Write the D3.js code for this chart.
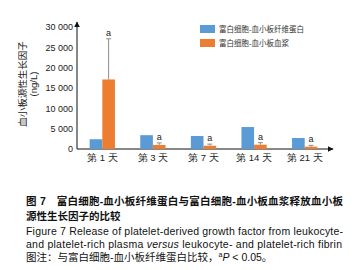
<!DOCTYPE html>
<html>
<head>
<meta charset="utf-8">
<script src="https://cdn.jsdelivr.net/npm/d3@7"></script>
<style>
  body { margin: 0; background: #fff; }
  svg { display: block; font-family: "Liberation Sans", Arial, "Noto Sans CJK SC", sans-serif; }
</style>
</head>
<body>
<svg id="chart" width="360" height="270"></svg>
<script>
// data
const days = ["第 1 天", "第 3 天", "第 7 天", "第 14 天", "第 21 天"];
const seriesNames = ["富白细胞-血小板纤维蛋白", "富白细胞-血小板血浆"];
const fibrinValues = [2400, 3400, 3200, 5400, 2700];
const plasmaValues = [17100, 1000, 800, 1050, 570];
const plasmaErrors = [10000, 500, 400, 500, 330];
const sigMarks = ["a", "a", "a", "a", "a"];
const yTicks = [0, 5000, 10000, 15000, 20000, 25000, 30000];
const colors = ["#5b9bd5", "#ed7d31"];

const svg = d3.select("#chart");
const left = 77;

const x = d3.scaleBand().domain(days).range([left, 330]).paddingInner(0.5).paddingOuter(0.25);
const sub = d3.scaleBand().domain([0, 1]).range([0, x.bandwidth()]);
const y = d3.scaleLinear().domain([0, 30000]).range([149, 27]);

const fmt = v => v === 0 ? "0" : d3.format(",")(v).replace(",", " ");

// y axis
const gy = svg.append("g").attr("class", "yaxis")
  .attr("transform", `translate(${left},0)`)
  .call(d3.axisLeft(y).tickValues(yTicks).tickSize(0).tickPadding(4).tickFormat(fmt));
gy.select(".domain").remove();
gy.selectAll("text").attr("font-size", 9).attr("fill", "#222");

// x axis
const gx = svg.append("g").attr("class", "xaxis")
  .attr("transform", `translate(0,${y(0)})`)
  .call(d3.axisBottom(x).tickSize(0).tickPadding(5));
gx.select(".domain").remove();
gx.selectAll("text").attr("font-size", 9.5).attr("fill", "#222");

// axis lines with arrows
svg.append("defs").append("marker")
  .attr("id", "arrow").attr("viewBox", "0 0 10 10").attr("refX", 9).attr("refY", 5)
  .attr("markerWidth", 6).attr("markerHeight", 6).attr("orient", "auto-start-reverse")
  .append("path").attr("d", "M0,0 L10,5 L0,10 z").attr("fill", "#111");
svg.append("line").attr("x1", left).attr("x2", left)
  .attr("y1", y(0)).attr("y2", 22).attr("stroke", "#111")
  .attr("marker-end", "url(#arrow)");
svg.append("line").attr("x1", left).attr("x2", 333)
  .attr("y1", y(0)).attr("y2", y(0)).attr("stroke", "#111")
  .attr("marker-end", "url(#arrow)");

// y label
const yl = svg.append("text").attr("transform", "translate(26,84) rotate(-90)")
  .attr("text-anchor", "middle").attr("font-size", 9.5).attr("fill", "#222");
yl.append("tspan").attr("x", 0).attr("y", 0).text("血小板源性生长因子");
yl.append("tspan").attr("x", 0).attr("y", 11).text("(ng/L)");

// bars
const bars = svg.append("g");
bars.selectAll("rect.f").data(fibrinValues).join("rect").attr("class", "f")
  .attr("x", (d, i) => x(days[i]) + sub(0)).attr("width", sub.bandwidth())
  .attr("y", d => y(d)).attr("height", d => y(0) - y(d)).attr("fill", colors[0]);
bars.selectAll("rect.p").data(plasmaValues).join("rect").attr("class", "p")
  .attr("x", (d, i) => x(days[i]) + sub(1)).attr("width", sub.bandwidth())
  .attr("y", d => y(d)).attr("height", d => y(0) - y(d)).attr("fill", colors[1]);

// error bars + significance marks
const eg = svg.append("g").attr("stroke", "#8c8c8c");
const marks = svg.append("g");
plasmaValues.forEach((v, i) => {
  const cx = x(days[i]) + sub(1) + sub.bandwidth() / 2;
  const yTop = y(v + plasmaErrors[i]);
  eg.append("line").attr("x1", cx).attr("x2", cx).attr("y1", y(v)).attr("y2", yTop);
  eg.append("line").attr("x1", cx - 2.5).attr("x2", cx + 2.5).attr("y1", yTop).attr("y2", yTop);
  marks.append("text").attr("x", cx).attr("y", yTop - 3)
    .attr("text-anchor", "middle").attr("font-size", 9).attr("fill", "#222").text(sigMarks[i]);
});

// legend
const lg = svg.append("g");
seriesNames.forEach((n, i) => {
  lg.append("rect").attr("x", 200).attr("y", 25 + i * 14).attr("width", 15).attr("height", 8).attr("fill", colors[i]);
  lg.append("text").attr("x", 219).attr("y", 32 + i * 14).attr("font-size", 7.5).attr("fill", "#333").text(n);
});

// caption
const cap = svg.append("g").attr("fill", "#111");
cap.append("text").attr("x", 26).attr("y", 205).attr("font-size", 10.5).attr("font-weight", "bold")
  .attr("textLength", 317).attr("lengthAdjust", "spacing")
  .text("图 7　富白细胞-血小板纤维蛋白与富白细胞-血小板血浆释放血小板");
cap.append("text").attr("x", 26).attr("y", 220).attr("font-size", 10.5).attr("font-weight", "bold")
  .text("源性生长因子的比较");
cap.append("text").attr("x", 26).attr("y", 235).attr("font-size", 10.5)
  .attr("textLength", 317).attr("lengthAdjust", "spacing")
  .text("Figure 7   Release of platelet-derived growth factor from leukocyte-");
const l4 = cap.append("text").attr("x", 26).attr("y", 248).attr("font-size", 10.5)
  .attr("textLength", 316).attr("lengthAdjust", "spacing");
l4.append("tspan").text("and platelet-rich plasma ");
l4.append("tspan").attr("font-style", "italic").text("versus");
l4.append("tspan").text(" leukocyte- and platelet-rich fibrin");
const l5 = cap.append("text").attr("x", 26).attr("y", 261).attr("font-size", 10.5);
l5.append("tspan").text("图注：与富白细胞-血小板纤维蛋白比较，");
l5.append("tspan").attr("font-size", 7).attr("dy", -4).text("a");
l5.append("tspan").attr("font-style", "italic").attr("dy", 4).text("P");
l5.append("tspan").text(" < 0.05。");
</script>
</body>
</html>
